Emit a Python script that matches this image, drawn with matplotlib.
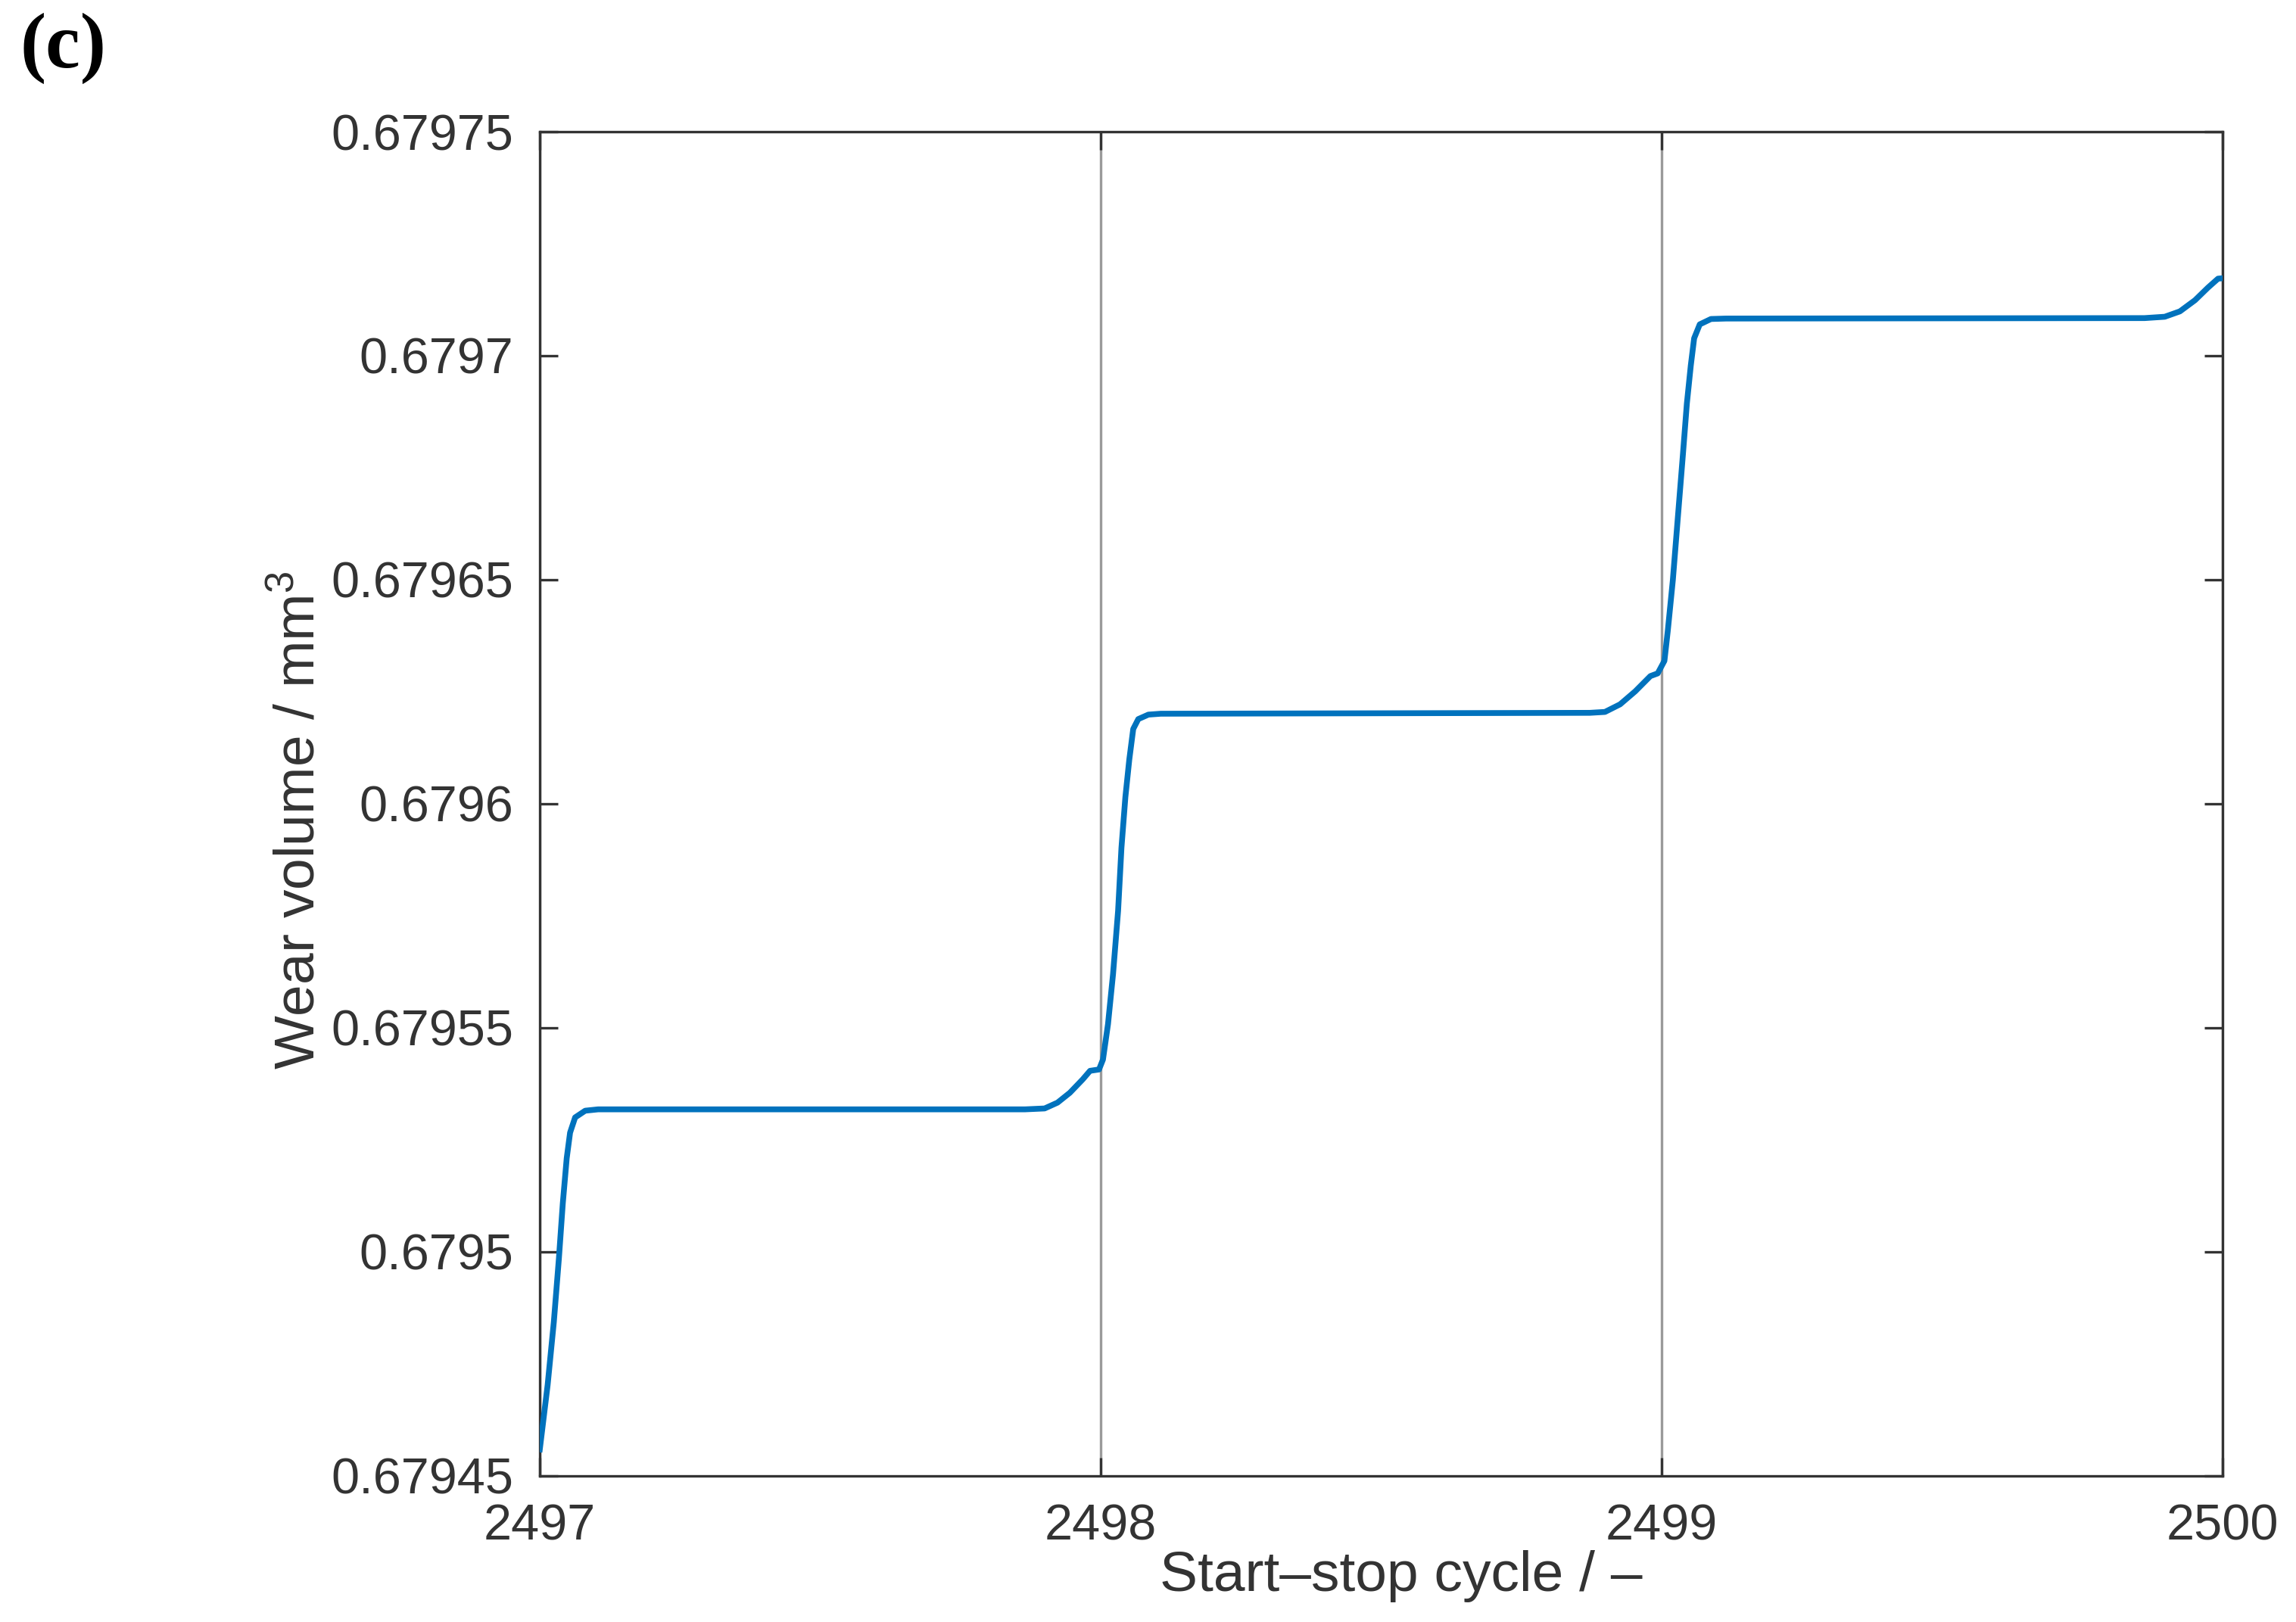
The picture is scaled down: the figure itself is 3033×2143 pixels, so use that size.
import matplotlib
matplotlib.use("Agg")
import matplotlib.pyplot as plt

# wear volume over the last three start-stop cycles
cycle = [
    2497.000, 2497.014, 2497.025, 2497.034, 2497.041, 2497.048, 2497.054, 2497.063, 2497.081, 2497.104,
    2497.865, 2497.900, 2497.923, 2497.945, 2497.968, 2497.981, 2497.997,
    2498.004, 2498.013, 2498.022, 2498.031, 2498.037, 2498.044, 2498.051, 2498.058, 2498.067, 2498.085, 2498.107,
    2498.872, 2498.899, 2498.926, 2498.953, 2498.980, 2498.993,
    2499.005, 2499.011, 2499.020, 2499.029, 2499.038, 2499.045, 2499.052, 2499.058, 2499.068, 2499.088, 2499.115,
    2499.861, 2499.897, 2499.924, 2499.951, 2499.974, 2499.992, 2500.000,
]
wear = [
    0.6794559, 0.6794703, 0.6794843, 0.6794984, 0.6795108, 0.6795209, 0.6795266, 0.6795300, 0.6795315, 0.6795318,
    0.6795318, 0.6795320, 0.6795333, 0.6795355, 0.6795385, 0.6795404, 0.6795407,
    0.6795429, 0.6795508, 0.6795620, 0.6795761, 0.6795902, 0.6796015, 0.6796099, 0.6796167, 0.6796189, 0.6796199, 0.6796201,
    0.6796203, 0.6796205, 0.6796222, 0.6796251, 0.6796285, 0.6796291,
    0.6796319, 0.6796386, 0.6796499, 0.6796640, 0.6796780, 0.6796893, 0.6796978, 0.6797039, 0.6797070, 0.6797082, 0.6797083,
    0.6797084, 0.6797087, 0.6797099, 0.6797124, 0.6797152, 0.6797172, 0.6797173,
]

x_ticks = [2497, 2498, 2499, 2500]
y_ticks = [0.67945, 0.6795, 0.67955, 0.6796, 0.67965, 0.6797, 0.67975]
y_tick_labels = ["0.67945", "0.6795", "0.67955", "0.6796", "0.67965", "0.6797", "0.67975"]

plt.rcParams["font.family"] = ["Liberation Sans", "DejaVu Sans"]
plt.rcParams["mathtext.fontset"] = "custom"
plt.rcParams["mathtext.rm"] = "Liberation Sans"
plt.rcParams["mathtext.it"] = "Liberation Sans:italic"

dark = "#333333"

fig = plt.figure(figsize=(30.33, 21.43), dpi=100)
ax = fig.add_axes([0.2351, 0.0901, 0.7329, 0.8287])

ax.plot(cycle, wear, color="#0072BD", linewidth=5.5, solid_joinstyle="round", zorder=3)

ax.set_xlim(2497, 2500)
ax.set_ylim(0.67945, 0.67975)
ax.set_xticks(x_ticks)
ax.set_xticklabels([str(t) for t in x_ticks])
ax.set_yticks(y_ticks)
ax.set_yticklabels(y_tick_labels)

ax.grid(axis="x", color="#9a9a9a", linewidth=2.4)
ax.set_axisbelow(True)

for s in ax.spines.values():
    s.set_color(dark)
    s.set_linewidth(2.4)

ax.tick_params(axis="both", direction="in", length=17, width=2.4, color=dark,
               labelsize=48, labelcolor=dark, top=True, right=True)
ax.tick_params(axis="x", pad=26)
ax.tick_params(axis="y", pad=25)

ax.set_xlabel("Start\u2013stop cycle / \u2013", fontsize=54, color=dark)
ax.set_ylabel("Wear volume / mm$^{\\mathrm{3}}$", fontsize=54, color=dark)
ax.xaxis.set_label_coords(0.512, -0.0555)
ax.yaxis.set_label_coords(-0.127, 0.488)

fig.text(0.0086, 0.992, "(c)", fontsize=74, fontweight="bold", va="top", ha="left",
         family=["Liberation Serif", "DejaVu Serif"], color="black")

fig.savefig("out.png", dpi=100)
